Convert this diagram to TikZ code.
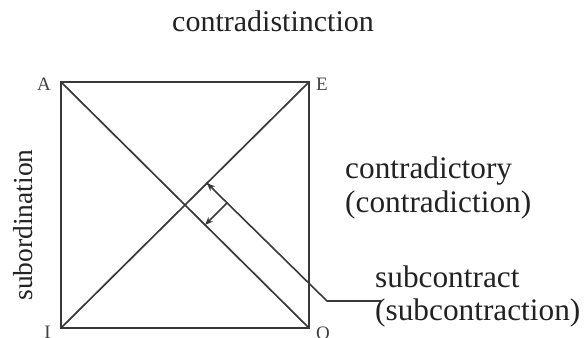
\documentclass[tikz,border=0pt]{standalone}
\usepackage{fontspec}
\setmainfont{Liberation Serif}
\usetikzlibrary{arrows.meta,calc}
\definecolor{ink}{HTML}{222222}
\definecolor{linec}{HTML}{383838}
\tikzset{
  sqline/.style={draw=linec,line width=1.7pt},
  leader/.style={draw=linec,line width=1.6pt},
  tipped/.style={leader,-{Stealth[length=8pt,width=6.5pt]}},
  biglabel/.style={text=ink,inner sep=0pt,font=\fontsize{31.3}{38}\selectfont},
  toplabel/.style={text=ink,inner sep=0pt,font=\fontsize{30}{36}\selectfont},
  sidelabel/.style={text=ink,inner sep=0pt,font=\fontsize{27.5}{33}\selectfont},
  cornerlabel/.style={text=black!75,inner sep=0pt,font=\fontsize{19}{22}\selectfont}
}
\begin{document}
\begin{tikzpicture}[x=1pt,y=1pt]
\useasboundingbox (0,0) rectangle (585,-337);
% corners
\coordinate (A) at (61,-82);
\coordinate (E) at (309,-82);
\coordinate (I) at (61,-328);
\coordinate (O) at (309,-328);
% square and diagonals
\draw[sqline] (A) -- (E) -- (O) -- (I) -- cycle;
\draw[sqline] (A) -- (O);
\draw[sqline] (I) -- (E);
% leader geometry
\coordinate (P1) at ($(I)!0.5887!(E)$);
\coordinate (B) at (327,-301);
\coordinate (Bend) at (381,-301);
\coordinate (Q) at ($(P1)!0.167!(B)$);
\coordinate (F) at ($(A)!(Q)!(O)$);
\draw[leader,line join=round] (Bend) -- (B) -- (P1);
\draw[tipped] ($(B)!0.97!(P1)$) -- (P1);
\draw[tipped] (Q) -- (F);
% corner labels
\node[cornerlabel,anchor=base east] (lA) at (51,-90) {A};
\node[cornerlabel,anchor=base west] (lE) at (316,-90) {E};
\node[cornerlabel,anchor=base east] (lI) at (51,-338) {I};
\node[cornerlabel,anchor=base west] (lO) at (316,-339) {O};
% texts
\node[toplabel,anchor=base] (top) at (273,-32) {contradistinction};
\node[sidelabel,anchor=base,rotate=90] (side) at (32,-225) {subordination};
\node[biglabel,anchor=base west] (cd1) at (345,-178) {contradictory};
\node[biglabel,anchor=base west] (cd2) at (345,-212) {(contradiction)};
\node[biglabel,anchor=base west] (sc1) at (375,-287) {subcontract};
\node[biglabel,anchor=base west] (sc2) at (375,-320) {(subcontraction)};
\end{tikzpicture}
\end{document}
